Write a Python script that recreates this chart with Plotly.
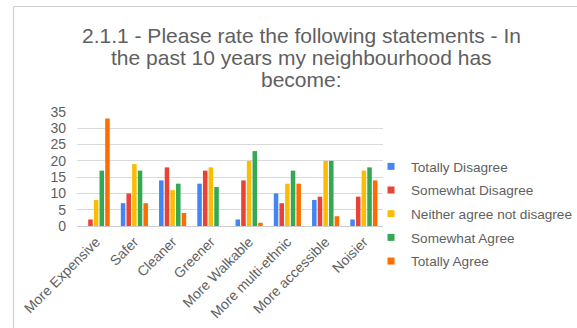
import plotly.graph_objects as go

# Survey question 2.1.1: change in the neighbourhood over the past 10 years
categories = ["More Expensive", "Safer", "Cleaner", "Greener", "More Walkable",
              "More multi-ethnic", "More accessible", "Noisier"]

totally_disagree = [0, 7, 14, 13, 2, 10, 8, 2]
somewhat_disagree = [2, 10, 18, 17, 14, 7, 9, 9]
neither = [8, 19, 11, 18, 20, 13, 20, 17]
somewhat_agree = [17, 17, 13, 12, 23, 17, 20, 18]
totally_agree = [33, 7, 4, 0, 1, 13, 3, 14]

series_names = ["Totally Disagree", "Somewhat Disagree", "Neither agree not disagree",
                "Somewhat Agree", "Totally Agree"]
series_values = [totally_disagree, somewhat_disagree, neither, somewhat_agree, totally_agree]
series_colors = ["#4285F4", "#EA4335", "#FBBC04", "#34A853", "#FF6D01"]

title_lines = ["2.1.1 - Please rate the following statements - In",
               "the past 10 years my neighbourhood has",
               "become:"]

y_ticks = [0, 5, 10, 15, 20, 25, 30, 35]

W, H = 577, 328
L, R, T, B = 77, 194, 112, 102
PW, PH = W - L - R, H - T - B

text_grey = "#5f5f5f"
font_family = "Liberation Sans, Arial, sans-serif"

fig = go.Figure()

for name, vals, col in zip(series_names, series_values, series_colors):
    fig.add_trace(go.Bar(
        x=categories, y=vals, name=name, marker_color=col,
        marker_line_width=0, showlegend=False, legendgroup=name,
    ))

# small square legend keys
for name, col in zip(series_names, series_colors):
    fig.add_trace(go.Scatter(
        x=[None], y=[None], mode="markers", name=name, legendgroup=name,
        marker=dict(symbol="square", size=7, color=col),
    ))


def px_x(p):
    return (p - L) / PW


def px_y(p):
    return (H - B - p) / PH


# chart frame (top and left edges of the chart card)
fig.add_shape(type="line", xref="paper", yref="paper",
              x0=px_x(13.5), x1=px_x(W + 5), y0=px_y(6.5), y1=px_y(6.5),
              line=dict(color="#cfcfcf", width=1.2), layer="above")
fig.add_shape(type="line", xref="paper", yref="paper",
              x0=px_x(13.5), x1=px_x(13.5), y0=px_y(6.5), y1=px_y(H + 5),
              line=dict(color="#cfcfcf", width=1.2), layer="above")

# three-line chart title
for i, line in enumerate(title_lines):
    fig.add_annotation(
        text=line, xref="paper", yref="paper",
        x=px_x(301), y=px_y(36 + 21.5 * i), xanchor="center", yanchor="middle",
        showarrow=False, font=dict(size=21, color=text_grey, family=font_family),
    )

fig.update_layout(
    width=W, height=H,
    margin=dict(l=L, r=R, t=T, b=B, autoexpand=False),
    paper_bgcolor="white", plot_bgcolor="white",
    font=dict(family=font_family, color=text_grey, size=14),
    barmode="group", bargap=0.26, bargroupgap=0.2,
    legend=dict(
        x=px_x(371), xanchor="left", y=px_y(151), yanchor="top",
        font=dict(size=13.6, color=text_grey),
        traceorder="grouped", tracegroupgap=3,
        bgcolor="rgba(0,0,0,0)", maxheight=300,
    ),
)

fig.update_xaxes(
    tickangle=-45, showgrid=False, showline=False, zeroline=False,
    tickfont=dict(size=14, color=text_grey), ticks="", ticklabelstandoff=4,
)
fig.update_yaxes(
    range=[0, 35], tickvals=y_ticks, showgrid=True, gridcolor="#d9d9d9",
    zeroline=True, zerolinecolor="#cccccc", zerolinewidth=1,
    tickfont=dict(size=14, color=text_grey), ticks="", ticklabelstandoff=10,
)

fig.write_html("out.html")
